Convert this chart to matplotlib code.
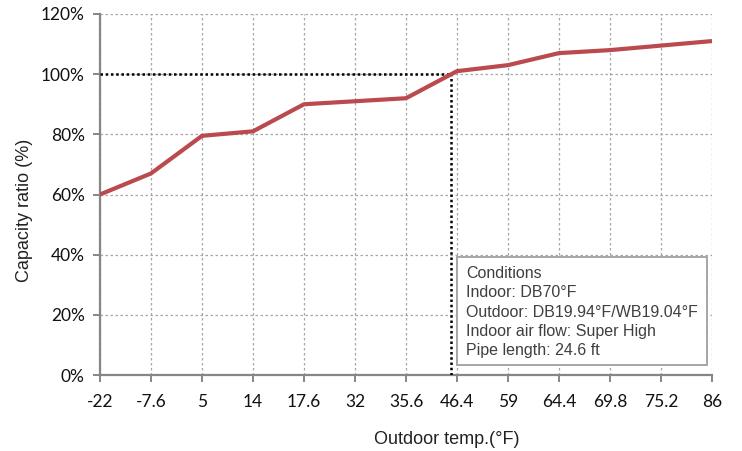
import matplotlib

matplotlib.use("Agg")
import matplotlib.pyplot as plt  # noqa: E402
from matplotlib.patches import Rectangle  # noqa: E402
import numpy as np  # noqa: E402

temps = ["-22", "-7.6", "5", "14", "17.6", "32", "35.6", "46.4", "59", "64.4", "69.8", "75.2", "86"]
capacity = [60, 67, 79.5, 81, 90, 91, 92, 101, 103, 107, 108, 109.5, 111]
rated = 100
conditions = [
    "Conditions",
    "Indoor: DB70°F",
    "Outdoor: DB19.94°F/WB19.04°F",
    "Indoor air flow: Super High",
    "Pipe length: 24.6 ft",
]

RED = "#BA4A4D"
GRID = "#A6A6A6"
AXIS = "#868686"

fig = plt.figure(figsize=(7.42, 4.51), dpi=100)
ax = fig.add_axes([100 / 742, 1 - 375 / 451, 612 / 742, 361 / 451])

xs = np.arange(len(temps))
ax.plot(xs, capacity, color=RED, lw=3, solid_capstyle="butt", zorder=4)

# where the curve reaches 100 %
cross = np.interp(rated, capacity[6:8], xs[6:8])
ax.plot([0, cross], [rated, rated], color="black", ls=(0, (1, 1.1)), lw=1.8, zorder=3)
ax.plot([cross, cross], [0, rated], color="black", ls=(0, (1, 1.1)), lw=1.8, zorder=3)

ax.set_xlim(0, len(temps) - 1)
ax.set_ylim(0, 120)
ax.set_xticks(xs)
ax.set_xticklabels(temps)
ax.set_yticks(range(0, 121, 20))
ax.set_yticklabels([f"{v}%" for v in range(0, 121, 20)])
ax.grid(True, color=GRID, ls=(0, (2, 2)), lw=0.9, zorder=1)
ax.set_axisbelow(True)

for s in ("top", "right"):
    ax.spines[s].set_visible(False)
for s in ("left", "bottom"):
    ax.spines[s].set_color(AXIS)
    ax.spines[s].set_linewidth(1.6)
ax.tick_params(direction="out", length=5, width=1.4, color=AXIS, labelsize=12.5, pad=6)
ax.tick_params(axis="x", pad=9)
for lab in ax.get_xticklabels() + ax.get_yticklabels():
    lab.set_fontfamily("Lato")
    lab.set_color("#111111")

fig.text(447 / 742, 1 - 440 / 451, "Outdoor temp.(°F)", family="Liberation Sans",
         fontsize=13, color="#222222", ha="center", va="center")
fig.text(25 / 742, 1 - 210 / 451, "Capacity ratio (%)", family="Liberation Sans",
         fontsize=13, color="#222222", ha="center", va="center", rotation=90)

# conditions box
box = Rectangle((457 / 742, 1 - 365 / 451), 250 / 742, 108 / 451, transform=fig.transFigure,
                facecolor="white", edgecolor=GRID, lw=1.4, zorder=5)
fig.patches.append(box)
fig.text(466 / 742, 1 - 266 / 451, "\n".join(conditions), family="Liberation Sans",
         fontsize=11.5, color="#3F3F3F", va="top", ha="left", linespacing=1.36, zorder=6)

fig.savefig("out.png", dpi=100)
